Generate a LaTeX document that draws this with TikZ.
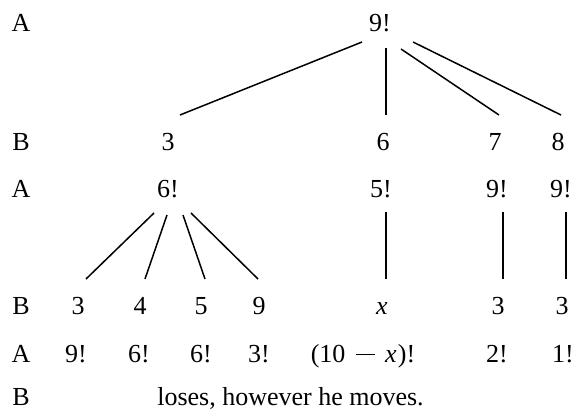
\documentclass[tikz,border=0pt]{standalone}
\usepackage{fontspec}
\setmainfont{Liberation Serif}
\begin{document}
\begin{tikzpicture}[x=1pt,y=-1pt,
  lbl/.style={anchor=base, inner sep=0pt, font=\fontsize{26}{30}\selectfont},
  edge/.style={line width=1.5pt},
  vedge/.style={line width=1.9pt}]
\useasboundingbox (0,0) rectangle (576,412);
% row 1
\node[lbl] (r1) at (21,32) {A};
\node[lbl] (top) at (380,32) {9!};
% row 2
\node[lbl] (r2) at (21,150) {B};
\node[lbl] (b3) at (168,150) {3};
\node[lbl] (b6) at (383,150) {6};
\node[lbl] (b7) at (495,150) {7};
\node[lbl] (b8) at (558,150) {8};
% row 3
\node[lbl] (r3) at (21,197) {A};
\node[lbl] (a6) at (168,197) {6!};
\node[lbl] (a5) at (381,197) {5!};
\node[lbl] (a9a) at (497,197) {9!};
\node[lbl] (a9b) at (561,197) {9!};
% row 4
\node[lbl] (r4) at (21,314) {B};
\node[lbl] (c3) at (78,314) {3};
\node[lbl] (c4) at (140,314) {4};
\node[lbl] (c5) at (201,314) {5};
\node[lbl] (c9) at (259,314) {9};
\node[lbl] (cx) at (382,314) {\textit{x}};
\node[lbl] (c3b) at (498,314) {3};
\node[lbl] (c3c) at (562,314) {3};
% row 5
\node[lbl] (r5) at (21,362) {A};
\node[lbl] (d1) at (76,362) {9!};
\node[lbl] (d2) at (139,362) {6!};
\node[lbl] (d3) at (201,362) {6!};
\node[lbl] (d4) at (259,362) {3!};
\node[lbl] (d5) at (363,362) {(10\hspace{0.4em}\rule[0.27em]{0.72em}{0.055em}\hspace{0.4em}\textit{x}\hspace{0.05em})!};
\node[lbl] (d6) at (497,362) {2!};
\node[lbl] (d7) at (563,362) {1!};
% row 6
\node[lbl] (r6) at (21,405) {B};
\node[lbl] (lose) at (290.5,405) {loses, however he moves.};
% edges from top
\draw[edge] ([shift={(-18,10)}]top.base) -- ([shift={(12,-35)}]b3.base);
\draw[vedge] ([shift={(6,16)}]top.base) -- ([shift={(3,-35)}]b6.base);
\draw[edge] ([shift={(21,17)}]top.base) -- ([shift={(4,-35)}]b7.base);
\draw[edge] ([shift={(33,10)}]top.base) -- ([shift={(3,-35)}]b8.base);
% fan from 6!
\draw[edge] ([shift={(-14,16)}]a6.base) -- ([shift={(8,-35)}]c3.base);
\draw[edge] ([shift={(-1,18)}]a6.base) -- ([shift={(5,-35)}]c4.base);
\draw[edge] ([shift={(15,18)}]a6.base) -- ([shift={(4,-35)}]c5.base);
\draw[edge] ([shift={(23,16)}]a6.base) -- ([shift={(-1,-35)}]c9.base);
% verticals
\draw[vedge] ([shift={(5,15)}]a5.base) -- ([shift={(4,-35)}]cx.base);
\draw[vedge] ([shift={(6,15)}]a9a.base) -- ([shift={(5,-35)}]c3b.base);
\draw[vedge] ([shift={(5,15)}]a9b.base) -- ([shift={(4,-35)}]c3c.base);
\end{tikzpicture}
\end{document}
